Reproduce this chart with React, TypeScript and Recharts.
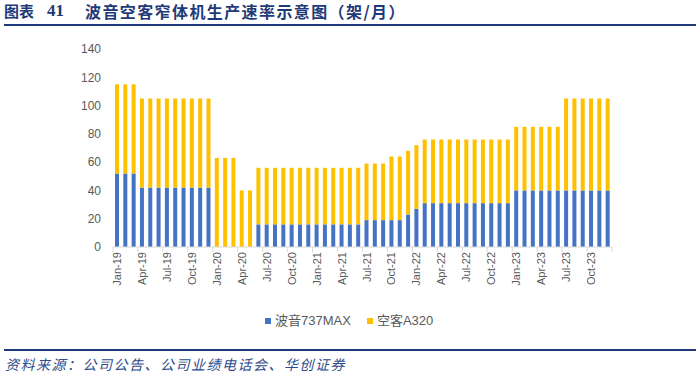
import React from 'react';
import { BarChart, Bar, XAxis, YAxis } from 'recharts';

// month labels, Jan-19 .. Dec-23
const months = [
  'Jan-19', 'Feb-19', 'Mar-19', 'Apr-19', 'May-19', 'Jun-19', 'Jul-19', 'Aug-19', 'Sep-19', 'Oct-19', 'Nov-19', 'Dec-19',
  'Jan-20', 'Feb-20', 'Mar-20', 'Apr-20', 'May-20', 'Jun-20', 'Jul-20', 'Aug-20', 'Sep-20', 'Oct-20', 'Nov-20', 'Dec-20',
  'Jan-21', 'Feb-21', 'Mar-21', 'Apr-21', 'May-21', 'Jun-21', 'Jul-21', 'Aug-21', 'Sep-21', 'Oct-21', 'Nov-21', 'Dec-21',
  'Jan-22', 'Feb-22', 'Mar-22', 'Apr-22', 'May-22', 'Jun-22', 'Jul-22', 'Aug-22', 'Sep-22', 'Oct-22', 'Nov-22', 'Dec-22',
  'Jan-23', 'Feb-23', 'Mar-23', 'Apr-23', 'May-23', 'Jun-23', 'Jul-23', 'Aug-23', 'Sep-23', 'Oct-23', 'Nov-23', 'Dec-23',
];

// 波音737MAX 月产量（架/月）
const boeing737 = [
  52, 52, 52, 42, 42, 42, 42, 42, 42, 42, 42, 42,
  0, 0, 0, 0, 0, 16, 16, 16, 16, 16, 16, 16,
  16, 16, 16, 16, 16, 16, 19, 19, 19, 19, 19, 23,
  27, 31, 31, 31, 31, 31, 31, 31, 31, 31, 31, 31,
  40, 40, 40, 40, 40, 40, 40, 40, 40, 40, 40, 40,
];

// 空客A320 月产量（架/月）
const airbusA320 = [
  63, 63, 63, 63, 63, 63, 63, 63, 63, 63, 63, 63,
  63, 63, 63, 40, 40, 40, 40, 40, 40, 40, 40, 40,
  40, 40, 40, 40, 40, 40, 40, 40, 40, 45, 45, 45,
  45, 45, 45, 45, 45, 45, 45, 45, 45, 45, 45, 45,
  45, 45, 45, 45, 45, 45, 65, 65, 65, 65, 65, 65,
];

const yTicks = [0, 20, 40, 60, 80, 100, 120, 140];

const data = months.map((m, i) => ({ month: m, boeing: boeing737[i], airbus: airbusA320[i] }));

const W = 700;
const H = 377;
const PLOT_LEFT = 113;
const PLOT_RIGHT = 612;
const PLOT_TOP = 49;
const PLOT_BOTTOM = 247;
const BAND = (PLOT_RIGHT - PLOT_LEFT) / months.length;

const BLUE = '#4472C4';
const YELLOW = '#FFC000';
const NAVY = '#1F3A78';
const AXIS_GREY = '#D9D9D9';
const TEXT_GREY = '#595959';

// Excel style: ticks on category boundaries every 3 months, rotated labels
const MonthTick = (props: any) => {
  const { x, y, payload } = props;
  const idx = payload.index;
  const last = idx === months.length - 1;
  if (idx % 3 !== 0 && !last) return null;
  const bx = x - BAND / 2;
  return (
    <g>
      {idx % 3 === 0 && <line x1={bx} x2={bx} y1={y} y2={y + 5} stroke={AXIS_GREY} />}
      {last && <line x1={x + BAND / 2} x2={x + BAND / 2} y1={y} y2={y + 5} stroke={AXIS_GREY} />}
      {idx % 3 === 0 && (
        <text
          x={x}
          y={y + 5}
          transform={`rotate(-90, ${x}, ${y + 5})`}
          textAnchor="end"
          dy="0.35em"
          fontSize={11}
          fill={TEXT_GREY}
          fontFamily="Liberation Sans, Arial, sans-serif"
        >
          {payload.value}
        </text>
      )}
    </g>
  );
};

const LegendItem = ({ color, label }: { color: string; label: string }) => (
  <div style={{ display: 'flex', alignItems: 'center', marginRight: 16 }}>
    <div style={{ width: 6, height: 6, background: color, marginRight: 4 }} />
    <span>{label}</span>
  </div>
);

const titleStyle: React.CSSProperties = {
  position: 'absolute', top: 1, fontWeight: 'bold', color: NAVY, whiteSpace: 'nowrap', lineHeight: '20px',
};

export default function App() {
  return (
    <div style={{ position: 'absolute', left: 0, top: 0, width: W, height: H, background: '#fff', overflow: 'hidden' }}>
      {/* title */}
      <div style={{ ...titleStyle, left: 4, fontSize: 15, fontFamily: '"Noto Sans CJK SC", sans-serif' }}>图表</div>
      <div style={{ ...titleStyle, left: 47, fontSize: 17, fontFamily: '"Liberation Serif", serif' }}>41</div>
      <div style={{ ...titleStyle, left: 85, fontSize: 16, letterSpacing: 1.4, fontFamily: '"Noto Sans CJK SC", sans-serif' }}>
        波音空客窄体机生产速率示意图（架/月）
      </div>
      <div style={{ position: 'absolute', left: 4, right: 4, top: 24, height: 2, background: NAVY }} />

      <BarChart
        width={W}
        height={H}
        data={data}
        barSize={4}
        margin={{ top: PLOT_TOP, right: W - PLOT_RIGHT, bottom: H - PLOT_BOTTOM - 30, left: PLOT_LEFT - 50 }}
      >
        <XAxis
          dataKey="month"
          height={30}
          interval={0}
          stroke={AXIS_GREY}
          tickLine={false}
          tickSize={0}
          tickMargin={0}
          tick={<MonthTick />}
        />
        <YAxis
          width={50}
          domain={[0, 140]}
          ticks={yTicks}
          axisLine={false}
          tickLine={false}
          tickSize={0}
          tickMargin={12}
          tick={{ fontSize: 12, fill: TEXT_GREY, fontFamily: 'Liberation Sans, Arial, sans-serif' }}
        />
        <Bar dataKey="boeing" name="波音737MAX" stackId="a" fill={BLUE} isAnimationActive={false} />
        <Bar dataKey="airbus" name="空客A320" stackId="a" fill={YELLOW} isAnimationActive={false} />
      </BarChart>

      {/* legend */}
      <div
        style={{
          position: 'absolute', left: 265, top: 312, display: 'flex', fontSize: 13, color: TEXT_GREY,
          fontFamily: '"Liberation Sans", "Noto Sans CJK SC", sans-serif', lineHeight: '18px',
        }}
      >
        <LegendItem color={BLUE} label="波音737MAX" />
        <LegendItem color={YELLOW} label="空客A320" />
      </div>

      {/* source */}
      <div style={{ position: 'absolute', left: 4, right: 4, top: 349, height: 2, background: NAVY }} />
      <div
        style={{
          position: 'absolute', left: 5, top: 355, fontSize: 14, fontStyle: 'italic', color: '#2E4B8A', letterSpacing: 1.5,
          fontFamily: '"Noto Sans CJK SC", sans-serif', whiteSpace: 'nowrap', lineHeight: '18px',
        }}
      >
        资料来源：公司公告、公司业绩电话会、华创证券
      </div>
    </div>
  );
}
